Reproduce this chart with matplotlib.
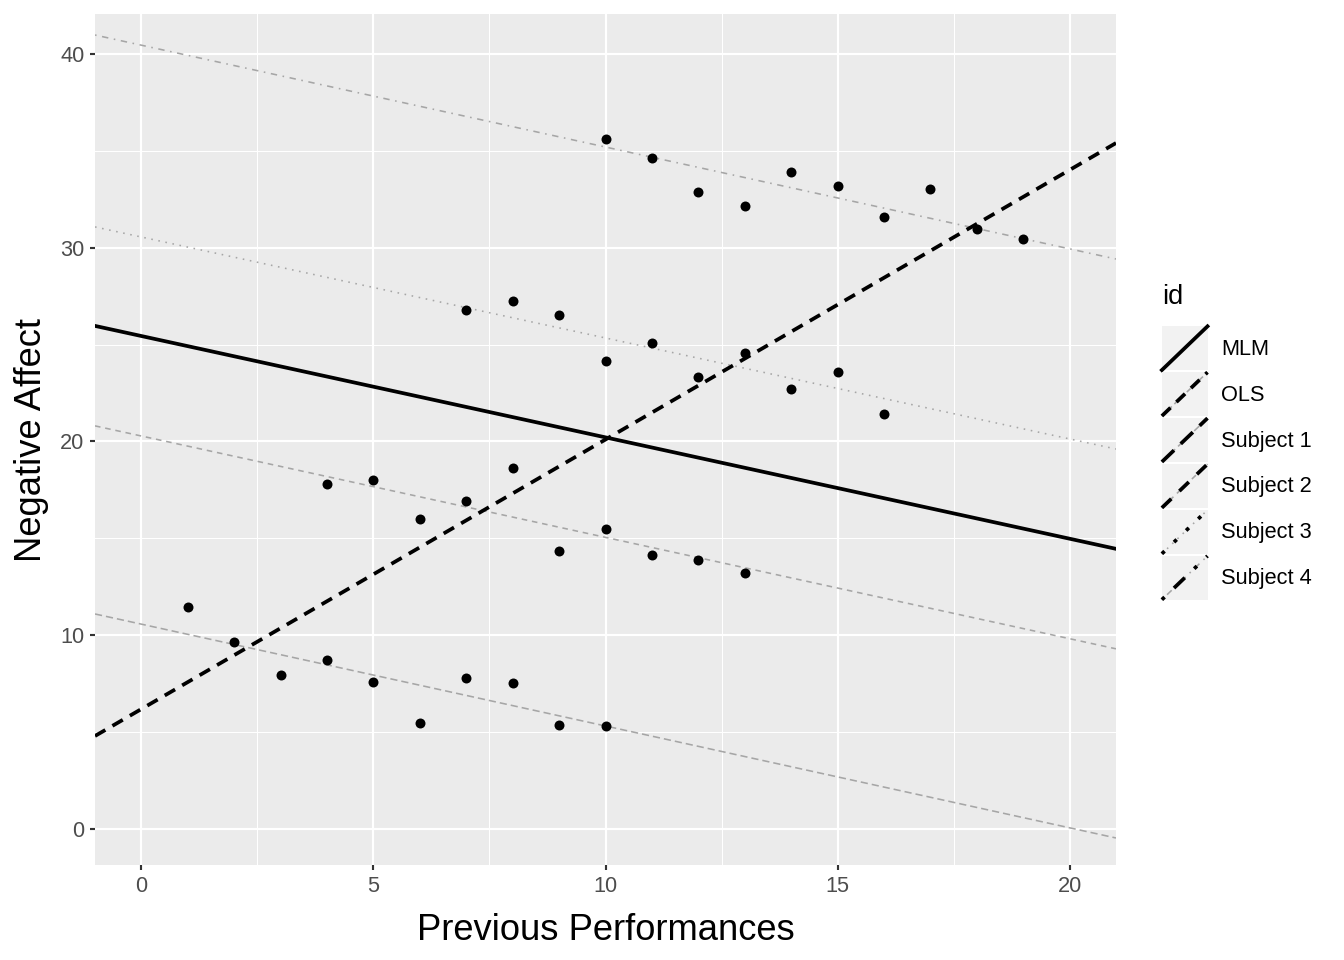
import numpy as np
import matplotlib.pyplot as plt
from matplotlib.lines import Line2D
from matplotlib.patches import Rectangle
from matplotlib.legend_handler import HandlerBase

plt.rcParams['font.family'] = ['Liberation Sans', 'DejaVu Sans']

# puntos de cada sujeto (x = desempeno previo, y = afecto negativo)
x_s1 = [1, 2, 3, 4, 5, 6, 7, 8, 9, 10]
y_s1 = [11.48, 9.65, 7.95, 8.71, 7.60, 5.47, 7.79, 7.55, 5.37, 5.33]
x_s2 = [4, 5, 6, 7, 8, 9, 10, 11, 12, 13]
y_s2 = [17.82, 18.01, 16.00, 16.95, 18.65, 14.37, 15.48, 14.14, 13.90, 13.21]
x_s3 = [7, 8, 9, 10, 11, 12, 13, 14, 15, 16]
y_s3 = [26.79, 27.25, 26.53, 24.15, 25.10, 23.30, 24.59, 22.73, 23.59, 21.44]
x_s4 = [10, 11, 12, 13, 14, 15, 16, 17, 18, 19]
y_s4 = [35.61, 34.65, 32.89, 32.16, 33.88, 33.19, 31.59, 33.03, 30.98, 30.45]

# rectas (intercepto, pendiente)
ids = ['MLM', 'OLS', 'Subject 1', 'Subject 2', 'Subject 3', 'Subject 4']
intercepts = [25.44, 6.19, 10.57, 20.28, 30.55, 40.45]
slopes = [-0.523, 1.391, -0.5255, -0.523, -0.521, -0.5255]

estilos = {
    'MLM': '-',
    'OLS': (0, (3.2, 2.2)),
    'Subject 1': (0, (4.5, 2.5)),
    'Subject 2': (0, (3.5, 3.0)),
    'Subject 3': (0, (1.0, 3.5)),
    'Subject 4': (0, (1.0, 3.5, 4.0, 3.5)),
}


class DiagHandler(HandlerBase):
    def create_artists(self, legend, orig_handle, xdescent, ydescent,
                       width, height, fontsize, trans):
        x0, y0 = -xdescent, -ydescent
        bg = Rectangle((x0, y0), width, height, facecolor='#F2F2F2',
                       edgecolor='none', transform=trans)
        ls = estilos[orig_handle.get_label()]
        l2 = Line2D([x0, x0 + width], [y0, y0 + height], color='#A6A6A6',
                    lw=1.2, linestyle=ls, transform=trans)
        l1 = Line2D([x0, x0 + width], [y0, y0 + height], color='black',
                    lw=2.8, linestyle=ls, transform=trans)
        return [bg, l2, l1]


fig = plt.figure(figsize=(14, 10), dpi=96)
ax = fig.add_axes([95/1344, 1 - 865/960, (1116-95)/1344, (865-14)/960])
ax.set_facecolor('#EBEBEB')
for s in ax.spines.values():
    s.set_visible(False)

ax.set_xticks([0, 5, 10, 15, 20])
ax.set_yticks([0, 10, 20, 30, 40])
ax.set_xticks([2.5, 7.5, 12.5, 17.5], minor=True)
ax.set_yticks([5, 15, 25, 35], minor=True)
ax.set_xlim(-1, 21)
ax.set_ylim(-1.86, 42.06)
ax.grid(which='major', color='white', lw=1.6)
ax.grid(which='minor', color='white', lw=0.8)
ax.set_axisbelow(True)
ax.tick_params(which='major', length=4, width=1.6, color='#333333',
               labelsize=16.3, labelcolor='#4D4D4D', pad=4)
ax.tick_params(which='minor', length=0)

# rectas de los sujetos en gris
for i in range(2, 6):
    ax.axline((0, intercepts[i]), slope=slopes[i], color='#A6A6A6', lw=1.2,
              linestyle=estilos[ids[i]], zorder=2)
# MLM y OLS en negro
for i in range(2):
    ax.axline((0, intercepts[i]), slope=slopes[i], color='black', lw=2.8,
              linestyle=estilos[ids[i]], zorder=3)

xs = x_s1 + x_s2 + x_s3 + x_s4
ys = y_s1 + y_s2 + y_s3 + y_s4
ax.scatter(xs, ys, s=56, color='black', zorder=4, linewidths=0)

ax.set_xlabel('Previous Performances', fontsize=27.3, labelpad=12)
ax.set_ylabel('Negative Affect', fontsize=27.3, labelpad=8)

handles = [Line2D([], [], label=n) for n in ids]
leg = fig.legend(handles=handles, labels=ids, loc='center left',
                 bbox_to_anchor=(1151/1344, 1 - 442/960), frameon=False,
                 fontsize=16.3, title='id', title_fontsize=20.3,
                 handler_map={Line2D: DiagHandler()},
                 handlelength=2.1, handleheight=2.72, labelspacing=0.1,
                 handletextpad=0.64, borderpad=0, alignment='left')
leg._legend_box.sep = 12  # hueco entre titulo y claves

fig.savefig('out.png', dpi=96)
